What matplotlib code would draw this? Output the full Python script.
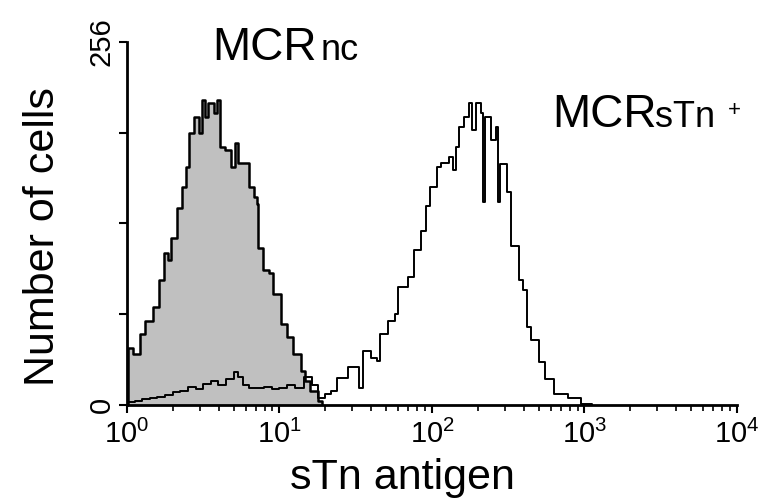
import numpy as np
import matplotlib.pyplot as plt

plt.rcParams['font.family'] = ['Liberation Sans', 'DejaVu Sans']
plt.rcParams['mathtext.fontset'] = 'custom'
plt.rcParams['mathtext.rm'] = 'Liberation Sans'
plt.rcParams['mathtext.it'] = 'Liberation Sans'

# MCRnc (gris, rempli) : exposant log10 de l'intensité et nombre de cellules
gray_log = [0.00, 0.009, 0.04, 0.086, 0.118, 0.17, 0.21, 0.24, 0.27, 0.29,
            0.33, 0.36, 0.39, 0.41, 0.44, 0.47, 0.49, 0.51, 0.53, 0.57,
            0.59, 0.61, 0.64, 0.68, 0.71, 0.73, 0.77, 0.80, 0.83, 0.85,
            0.86, 0.89, 0.93, 0.96, 1.01, 1.05, 1.09, 1.14, 1.17, 1.20,
            1.25, 1.28]
gray_count = [0, 40, 36, 50, 59, 69, 88, 107, 102, 118,
              139, 154, 168, 192, 203, 192, 215, 203, 213, 206,
              215, 182, 180, 168, 185, 171, 171, 154, 147, 142,
              111, 95, 93, 78, 57, 48, 36, 24, 17, 10,
              3, 0]

# MCRsTn+ (contour seul)
open_log = [0.00, 0.05, 0.10, 0.15, 0.20, 0.25, 0.30, 0.35, 0.40, 0.45,
            0.50, 0.55, 0.60, 0.65, 0.70, 0.73, 0.76, 0.80, 0.85, 0.90,
            0.95, 1.00, 1.05, 1.10, 1.16, 1.21, 1.25, 1.30, 1.34, 1.38,
            1.45, 1.52, 1.55, 1.60, 1.64, 1.66, 1.71, 1.76, 1.78, 1.84,
            1.88, 1.93, 1.96, 1.99, 2.03, 2.06, 2.11, 2.14, 2.16, 2.18,
            2.21, 2.24, 2.26, 2.29, 2.32, 2.335, 2.345, 2.39, 2.42, 2.435,
            2.445, 2.49, 2.52, 2.57, 2.60, 2.62, 2.65, 2.70, 2.74, 2.80,
            2.89, 2.98, 3.05]
open_count = [2, 3, 4, 5, 6, 7, 9, 10, 13, 11,
              15, 17, 14, 18, 23, 20, 14, 12, 12, 13,
              11, 12, 14, 12, 20, 14, 5, 8, 10, 19,
              27, 12, 38, 33, 31, 50, 59, 64, 83, 90,
              109, 123, 140, 154, 168, 171, 175, 166, 182, 196,
              203, 213, 194, 213, 206, 143, 203, 187, 196, 143,
              170, 150, 112, 88, 81, 55, 46, 30, 18, 8,
              5, 1, 0]

xticks = [1, 10, 100, 1000, 10000]
xtick_labels = [r'$10^0$', r'$10^1$', r'$10^2$', r'$10^3$', r'$10^4$']
yticks = [0, 64, 128, 192, 256]
ytick_labels = ['0', '', '', '', '256']

fig = plt.figure(figsize=(7.78, 5.04), dpi=100)
ax = fig.add_axes([0.1632, 0.1964, 0.7841, 0.7203])

gx = 10 ** np.array(gray_log)
ox = 10 ** np.array(open_log)

ax.fill_between(gx, gray_count, step='post', color='#c0c0c0', lw=0)
ax.step(gx, gray_count, where='post', color='black', lw=1.8)
ax.step(ox, open_count, where='post', color='black', lw=1.4)

ax.set_xscale('log')
ax.set_xlim(1, 10000)
ax.set_ylim(0, 256)

ax.spines['top'].set_visible(False)
ax.spines['right'].set_visible(False)
ax.spines['left'].set_linewidth(2)
ax.spines['bottom'].set_linewidth(2)

ax.set_xticks(xticks)
ax.set_xticklabels(xtick_labels, fontsize=21)
ax.set_yticks(yticks)
ax.set_yticklabels(ytick_labels, fontsize=21, rotation=90, va='center')
ax.tick_params(axis='both', which='major', length=6, width=1.5, pad=2)
ax.tick_params(axis='x', which='major', pad=5)
ax.tick_params(axis='x', which='minor', length=4, width=1.2)

ax.set_ylabel('Number of cells', fontsize=31)
ax.yaxis.set_label_coords(-0.105, 0.463)
ax.set_xlabel('sTn antigen', fontsize=31)
ax.xaxis.set_label_coords(0.452, -0.145)

# étiquettes des populations
ax.text(0.139, 0.950, 'MCR', transform=ax.transAxes, fontsize=33)
ax.text(0.317, 0.950, 'nc', transform=ax.transAxes, fontsize=26)
ax.text(0.697, 0.766, 'MCR', transform=ax.transAxes, fontsize=33)
ax.text(0.866, 0.766, 'sTn', transform=ax.transAxes, fontsize=26)
ax.text(0.985, 0.796, '+', transform=ax.transAxes, fontsize=16)

plt.savefig('out.png', dpi=100)
